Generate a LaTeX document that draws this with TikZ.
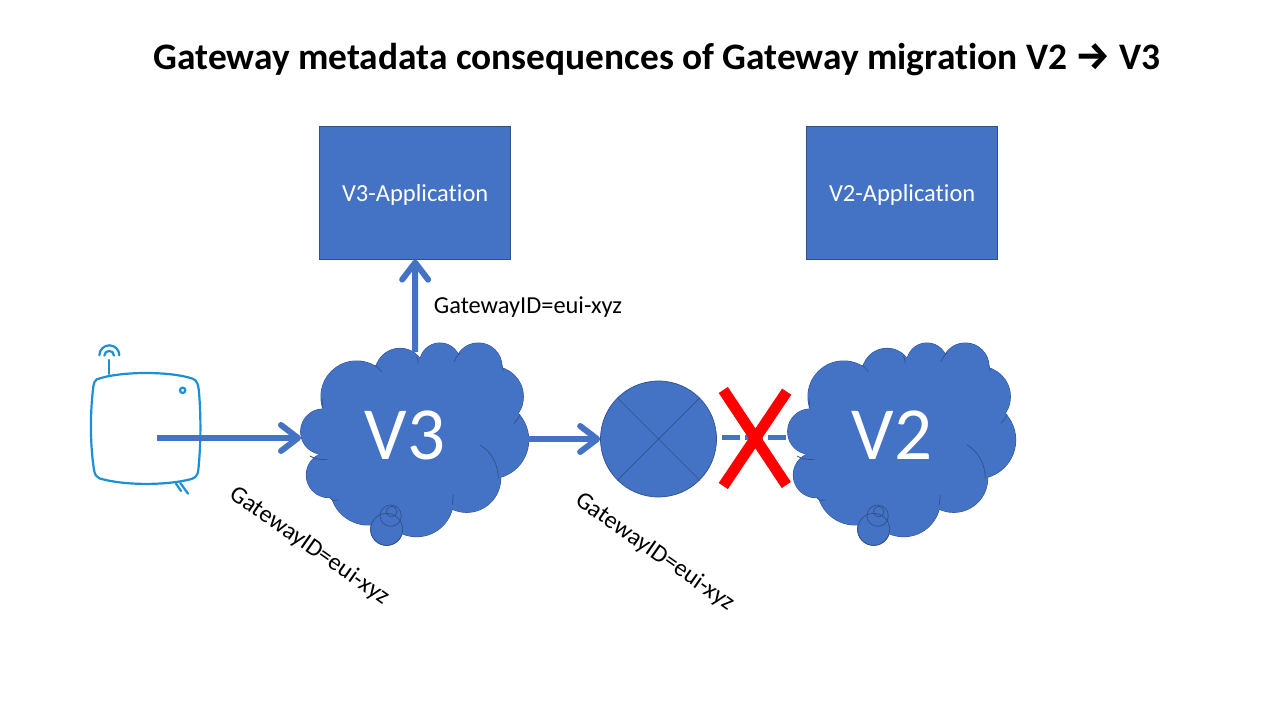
\documentclass[tikz,border=0pt]{standalone}
\usepackage{fontspec}
\setmainfont{Carlito}[Ligatures=NoCommon]
\newfontfamily\arrowfont{Fira Sans}
\usetikzlibrary{arrows.meta,shapes.geometric}
\definecolor{pptblue}{HTML}{4472C4}
\definecolor{pptedge}{HTML}{2F528F}
\definecolor{gwblue}{HTML}{1B8FD8}
\tikzset{
  appbox/.style={draw=pptedge,line width=0.7pt,fill=pptblue,text=white,font=\fontsize{24.5}{28}\selectfont,minimum width=191pt,minimum height=133pt,inner sep=0pt,text height=20pt,text depth=3pt},
  flow/.style={draw=pptblue,line width=6pt,-{Straight Barb[round,length=17pt,width=26pt,line width=6pt]}},
  lbl/.style={text=black,font=\fontsize{24.4}{28}\selectfont,inner sep=0pt},
  cloudtext/.style={text=white,font=\fontsize{75}{85}\selectfont,inner sep=0pt},
  edge/.style={draw=pptedge,line width=0.7pt},
  gw/.style={draw=gwblue,line width=2.2pt,line cap=round},
}
\newcommand{\lobes}[1]{%
  \foreach \cx/\cy/\r in {100/305/68,117/435/68,235/470/115,380/510/110,530/445/102,600/330/116,610/200/90,565/110/71,450/100/61,330/130/75,200/200/107,290/598/48}{
    #1 (\cx,\cy) circle (\r);
  }}
\newcommand{\cloudshape}{%
  \lobes{\path[draw=pptedge,line width=1pt,fill=pptblue]}
  \lobes{\path[fill=pptblue]}
  \path[fill=pptblue] (100,305) -- (117,435) -- (235,470) -- (380,510) -- (530,445) -- (600,330) -- (610,200) -- (565,110) -- (450,100) -- (330,130) -- (200,200) -- cycle;
  \path[edge,fill=none] (97,205) -- (97,235) (60,378) .. controls (75,388) and (95,390) .. (112,388)
    (120,505) .. controls (128,512) and (137,513) .. (146,510)
    (490,495) -- (487,525) (570,345) .. controls (605,365) and (625,405) .. (625,445)
    (672,280) .. controls (680,272) and (686,264) .. (690,252)
    (640,125) -- (636,105) (492,95) .. controls (497,85) and (502,75) .. (510,68)
    (385,100) .. controls (384,92) and (383,86) .. (380,80) (275,125) .. controls (268,118) and (262,112) .. (255,105)
    (290,598) circle (48) (302,557) circle (32) (305,545) circle (16);
}
\begin{document}
\begin{tikzpicture}[x=1pt,y=-1pt]
\useasboundingbox (0,0) rectangle (1280,720);
\node[text=black,font=\bfseries\fontsize{37.4}{42}\selectfont,inner sep=0pt] (title) at (657,59.3) {Gateway metadata consequences of Gateway migration V2 {\arrowfont\fontsize{39}{42}\selectfont →} V3};
\node[appbox] (v3app) at (415.2,192.8) {V3-Application};
\node[appbox] (v2app) at (902.2,192.8) {V2-Application};

% gateway
\begin{scope}[shift={(70,330)},x=0.3333pt,y=-0.3333pt]
\draw[gw] (80,148) .. controls (150,123) and (300,123) .. (368,146) .. controls (382,151) and (385,165) .. (387,185)
  .. controls (393,260) and (393,340) .. (385,420) .. controls (383,435) and (378,442) .. (365,447)
  .. controls (290,467) and (160,467) .. (88,445) .. controls (78,441) and (75,433) .. (72,420)
  .. controls (60,340) and (60,250) .. (70,170) .. controls (72,157) and (75,152) .. (80,148) -- cycle;
\draw[gw] (117,132) -- (117,90);
\draw[gw] (103,77) arc (180:360:14.5);
\draw[gw] (88,76) arc (180:360:30);
\draw[gw] (338,181) circle (8);
\draw[gw] (318,461) -- (333,483) (331,459) -- (354,491);
\end{scope}

% clouds
\begin{scope}[shift={(290,330)},x=0.3333pt,y=-0.3333pt]
\cloudshape
\end{scope}
\begin{scope}[shift={(777,330)},x=0.3333pt,y=-0.3333pt]
\cloudshape
\end{scope}
\node[cloudtext] (v3) at (405,435) {V3};
\node[cloudtext] (v2) at (892,435) {V2};

\coordinate (gwout) at (157,438);
\coordinate (v3in) at (301,438);
\coordinate (v3top) at (415,352);
\coordinate (v3out) at (528,439);
\coordinate (v2in) at (788,437.7);
\coordinate (dashstart) at (722.3,437.7);
\node[circle,draw=pptedge,line width=0.7pt,fill=pptblue,minimum size=116pt,inner sep=0pt] (gate) at (658.5,439) {};
\draw[edge] (gate.45) -- (gate.225) (gate.135) -- (gate.315);

\draw[flow] (gwout) -- (v3in);
\draw[flow] (v3top) -- (v3app.south);
\draw[flow] (v3out) -- (gate.west);
\draw[draw=pptblue,line width=5.5pt,dash pattern=on 18pt off 5pt] (dashstart) -- (v2in);
\path[draw=red,line width=11pt] (723.3,390) -- (786.3,485) (786.7,391.7) -- (723.3,486);

\node[lbl] (lab1) at (528,307) {GatewayID=eui-xyz};
\node[lbl,rotate=-35] (lab2) at (309.5,546) {GatewayID=eui-xyz};
\node[lbl,rotate=-35] (lab3) at (655,552) {GatewayID=eui-xyz};
\end{tikzpicture}
\end{document}
